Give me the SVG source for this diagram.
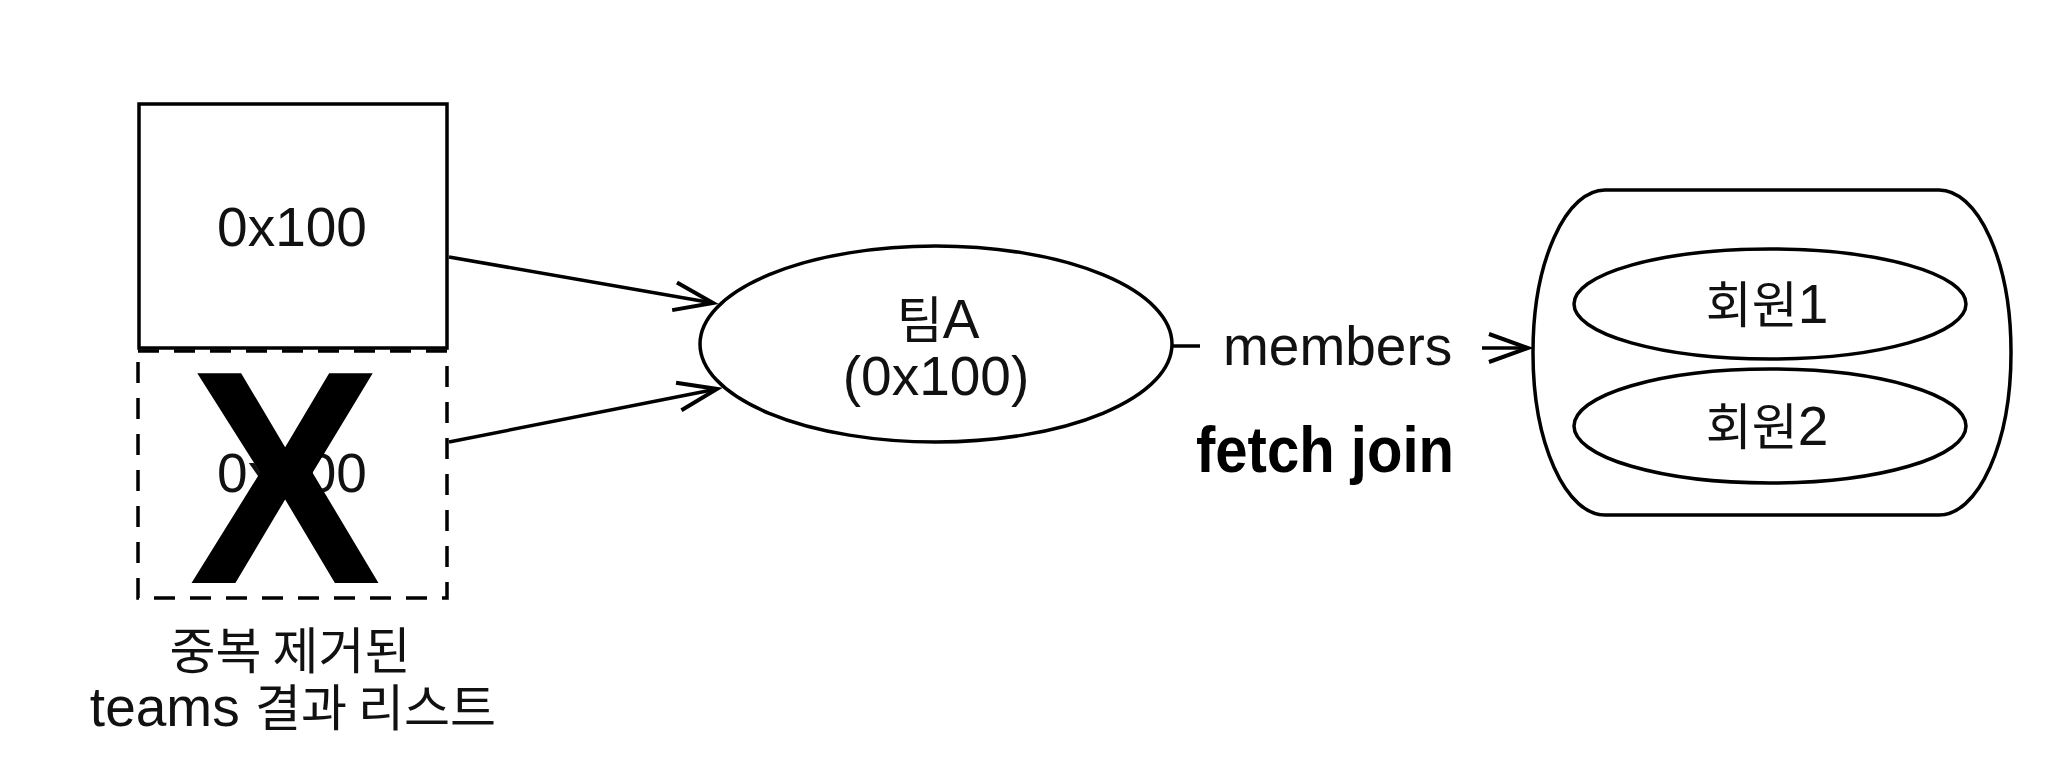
<svg xmlns="http://www.w3.org/2000/svg" width="2048" height="772" viewBox="0 0 2048 772">
<style>
.shape{fill:#fff;stroke:#000;stroke-width:3.5}
.dash{fill:none;stroke:#000;stroke-width:3.5;stroke-dasharray:21 15}
.edge{fill:none;stroke:#000;stroke-width:3.5}
.t{font-family:"Liberation Sans","Noto Sans CJK KR",sans-serif;font-size:55px;fill:#111}
.k{font-family:"Noto Sans CJK KR","Liberation Sans",sans-serif;font-size:50px}
.b{font-family:"Liberation Sans",Arial,sans-serif;font-weight:bold;fill:#000}
</style>
<defs>
<marker id="arr" markerUnits="userSpaceOnUse" viewBox="-3 -3 46 34" refX="40" refY="14" markerWidth="46" markerHeight="34" orient="auto" overflow="visible">
<path d="M1,0 L40,14 L1,28" fill="none" stroke="#000" stroke-width="4"/>
</marker>
</defs>
<g id="teams-list">
<g id="item1">
<rect class="shape" x="139" y="104" width="308" height="244"/>
<text class="t" x="292" y="246" text-anchor="middle">0x100</text>
</g>
<g id="item2-removed">
<rect class="dash" x="138" y="351" width="309" height="247"/>
<text class="t" x="292" y="492" text-anchor="middle">0x100</text>
<text class="b" x="189" y="583" font-size="305" textLength="192" lengthAdjust="spacingAndGlyphs">X</text>
</g>
<text id="list-label" class="t" text-anchor="middle"><tspan class="k" x="290" y="669">중복 제거된</tspan><tspan x="293" y="726">teams <tspan class="k">결과 리스트</tspan></tspan></text>
</g>
<g id="teamA">
<ellipse class="shape" cx="936" cy="344" rx="236" ry="98"/>
<text class="t" x="938" y="338" text-anchor="middle"><tspan class="k">팀</tspan>A</text>
<text class="t" x="936" y="395" text-anchor="middle">(0x100)</text>
</g>
<g id="members">
<rect class="shape" x="1533" y="190" width="478" height="325" rx="72" ry="162"/>
<g id="member1">
<ellipse class="shape" cx="1770" cy="304" rx="196" ry="55"/>
<text class="t" x="1767" y="323" text-anchor="middle"><tspan class="k">회원</tspan>1</text>
</g>
<g id="member2">
<ellipse class="shape" cx="1770" cy="426" rx="196" ry="57"/>
<text class="t" x="1767" y="445" text-anchor="middle"><tspan class="k">회원</tspan>2</text>
</g>
</g>
<g id="connectors">
<path class="edge" d="M449,257 L713,303" marker-end="url(#arr)"/>
<path class="edge" d="M449,442 L717,389" marker-end="url(#arr)"/>
<path class="edge" d="M1172,346 L1200,346"/>
<path class="edge" d="M1482,348 L1528,348" marker-end="url(#arr)"/>
<text class="t" x="1223" y="365">members</text>
<text class="b" x="1196" y="472" font-size="64" textLength="258" lengthAdjust="spacingAndGlyphs">fetch join</text>
</g>
</svg>
